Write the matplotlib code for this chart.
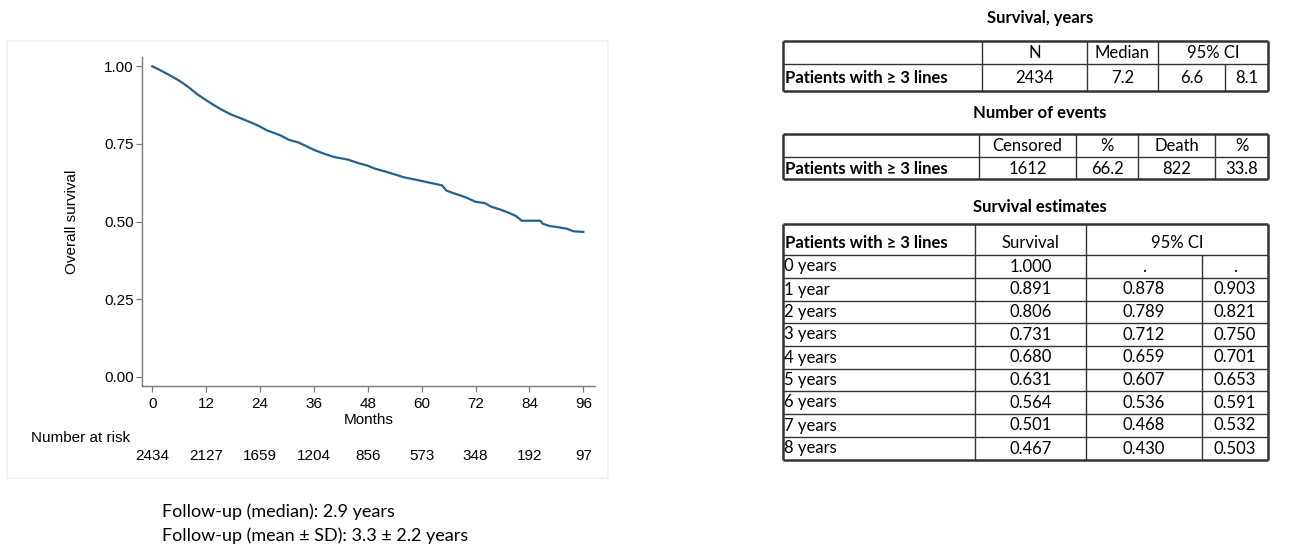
import matplotlib
matplotlib.use("Agg")
import matplotlib.pyplot as plt
from matplotlib.patches import Rectangle
from matplotlib.transforms import blended_transform_factory

# Kaplan-Meier curve
months = [0, 1, 2.5, 4, 5.5, 7, 8.5, 10, 12, 13.5, 15, 17.5, 19.5, 22.5, 24,
          25.5, 28.5, 30.5, 32.5, 34, 36, 38, 40.5, 43.5, 46, 48, 49.5, 52,
          54, 56, 58, 60, 62.5, 64.5, 65.5, 67, 68.5, 70, 72, 74, 75.5, 77.5,
          79.5, 81, 82.3, 86.4, 87, 88.5, 90, 92.4, 93.8, 96]
surv = [1.000, 0.993, 0.982, 0.970, 0.958, 0.944, 0.928, 0.910, 0.891, 0.877,
        0.864, 0.845, 0.834, 0.816, 0.806, 0.794, 0.778, 0.763, 0.755, 0.745,
        0.731, 0.720, 0.708, 0.700, 0.688, 0.680, 0.671, 0.661, 0.652, 0.643,
        0.637, 0.631, 0.623, 0.617, 0.600, 0.592, 0.585, 0.577, 0.564, 0.560,
        0.548, 0.539, 0.528, 0.518, 0.503, 0.503, 0.493, 0.486, 0.483, 0.477,
        0.469, 0.467]

risk_months = [0, 12, 24, 36, 48, 60, 72, 84, 96]
at_risk = [2434, 2127, 1659, 1204, 856, 573, 348, 192, 97]
y_ticks = [0.0, 0.25, 0.5, 0.75, 1.0]

# tables
t1_title = "Survival, years"
t1_head = ["", "N", "Median", "95% CI"]
t1_row = ["Patients with \u2265 3 lines", "2434", "7.2", "6.6", "8.1"]

t2_title = "Number of events"
t2_head = ["", "Censored", "%", "Death", "%"]
t2_row = ["Patients with \u2265 3 lines", "1612", "66.2", "822", "33.8"]

t3_title = "Survival estimates"
t3_head = ["Patients with \u2265 3 lines", "Survival", "95% CI"]
t3_labels = ["0 years", "1 year", "2 years", "3 years", "4 years",
             "5 years", "6 years", "7 years", "8 years"]
t3_surv = ["1.000", "0.891", "0.806", "0.731", "0.680", "0.631", "0.564",
           "0.501", "0.467"]
t3_lo = [".", "0.878", "0.789", "0.712", "0.659", "0.607", "0.536", "0.468",
         "0.430"]
t3_hi = [".", "0.903", "0.821", "0.750", "0.701", "0.653", "0.591", "0.532",
         "0.503"]

footer = ["Follow-up (median): 2.9 years",
          "Follow-up (mean \u00b1 SD): 3.3 \u00b1 2.2 years"]

W, H = 1293, 548
fig = plt.figure(figsize=(W / 100, H / 100), dpi=100)

# overlay in pixel units for panel box and tables
bg = fig.add_axes([0, 0, 1, 1])
bg.set_xlim(0, W)
bg.set_ylim(H, 0)
bg.axis("off")
bg.add_patch(Rectangle((7, 41), 601, 437, fill=False, ec="#eef2f4", lw=1.2))

pfont = ["Liberation Sans", "DejaVu Sans"]
tfont = ["Lato", "DejaVu Sans"]
blue = "#23628f"
grey = "#7a7a7a"
pfs = 11
tfs = 12

# KM plot
ax = fig.add_axes([142 / W, 1 - 386 / H, (595 - 142) / W, (386 - 57) / H])
ax.plot(months, surv, color=blue, lw=1.6)
ax.set_xlim(-2.3, 98.6)
ax.set_ylim(-0.029, 1.03)
ax.set_xticks(risk_months)
ax.set_yticks(y_ticks)
ax.set_yticklabels(["%.2f" % v for v in y_ticks], family=pfont, fontsize=pfs)
ax.set_xticklabels([str(m) for m in risk_months], family=pfont, fontsize=pfs)
for s in ["top", "right"]:
    ax.spines[s].set_visible(False)
for s in ["left", "bottom"]:
    ax.spines[s].set_color(grey)
    ax.spines[s].set_linewidth(1.0)
ax.tick_params(direction="out", length=4, width=0.9, color=grey)
ax.tick_params(axis="x", pad=4)
ax.tick_params(axis="y", pad=2)
ax.set_xlabel("Months", family=pfont, fontsize=pfs, labelpad=1)
ax.set_ylabel("Overall survival", family=pfont, fontsize=pfs, labelpad=18)

tr = blended_transform_factory(ax.transData, fig.transFigure)
fig.text(31 / W, 1 - 438 / H, "Number at risk", family=pfont, fontsize=pfs,
         ha="left", va="center")
for m, n in zip(risk_months, at_risk):
    ax.text(m, 1 - 456 / H, str(n), transform=tr, family=pfont, fontsize=pfs,
            ha="center", va="center")

# footer
for i, line in enumerate(footer):
    bg.text(162, 512 + 24 * i, line, family=tfont, fontsize=13,
            ha="left", va="center")


def hline(x0, x1, y, lw=1.0):
    bg.plot([x0, x1], [y, y], color="#333333", lw=lw, solid_capstyle="butt")


def vline(x, y0, y1, lw=1.0):
    bg.plot([x, x], [y0, y1], color="#333333", lw=lw, solid_capstyle="butt")


def frame(x0, x1, y0, y1):
    hline(x0, x1, y0, 1.8)
    hline(x0, x1, y1, 1.8)
    vline(x0, y0, y1, 1.8)
    vline(x1, y0, y1, 1.8)


def cell(x, y, s, bold=False, left=False):
    bg.text(x, y, s, family=tfont, fontsize=tfs,
            fontweight="bold" if bold else "normal",
            ha="left" if left else "center", va="center")


tx = 1040
# table 1
xs = [783, 982, 1087, 1158, 1225, 1268]
ys = [41, 64, 91]
bg.text(tx, 18, t1_title, family=tfont, fontsize=tfs, fontweight="bold",
        ha="center", va="center")
frame(xs[0], xs[-1], ys[0], ys[-1])
hline(xs[0], xs[-1], ys[1])
for x in xs[1:4]:
    vline(x, ys[0], ys[2])
vline(xs[4], ys[1], ys[2])
cell((xs[1] + xs[2]) / 2, 53, t1_head[1])
cell((xs[2] + xs[3]) / 2, 53, t1_head[2])
cell((xs[3] + xs[5]) / 2, 53, t1_head[3])
cell(xs[0] + 2, 78, t1_row[0], bold=True, left=True)
for j in range(1, 5):
    cell((xs[j] + xs[j + 1]) / 2, 78, t1_row[j])

# table 2
xs = [783, 979, 1076, 1138, 1215, 1268]
ys = [134, 157, 179]
bg.text(tx, 113, t2_title, family=tfont, fontsize=tfs, fontweight="bold",
        ha="center", va="center")
frame(xs[0], xs[-1], ys[0], ys[-1])
hline(xs[0], xs[-1], ys[1])
for x in xs[1:5]:
    vline(x, ys[0], ys[2])
for j in range(1, 5):
    cell((xs[j] + xs[j + 1]) / 2, 146, t2_head[j])
cell(xs[0] + 2, 169, t2_row[0], bold=True, left=True)
for j in range(1, 5):
    cell((xs[j] + xs[j + 1]) / 2, 169, t2_row[j])

# table 3
xs = [783, 975, 1086, 1202, 1268]
ys = [224, 255, 278, 301, 323, 346, 369, 391, 414, 437, 460]
bg.text(tx, 207, t3_title, family=tfont, fontsize=tfs, fontweight="bold",
        ha="center", va="center")
frame(xs[0], xs[-1], ys[0], ys[-1])
for y in ys[1:-1]:
    hline(xs[0], xs[-1], y)
vline(xs[1], ys[0], ys[-1])
vline(xs[2], ys[0], ys[-1])
vline(xs[3], ys[1], ys[-1])
cell(xs[0] + 2, 243, t3_head[0], bold=True, left=True)
cell((xs[1] + xs[2]) / 2, 243, t3_head[1])
cell((xs[2] + xs[4]) / 2, 243, t3_head[2])
for i in range(len(t3_labels)):
    yc = (ys[i + 1] + ys[i + 2]) / 2
    cell(xs[0] + 1, yc, t3_labels[i], left=True)
    cell((xs[1] + xs[2]) / 2, yc, t3_surv[i])
    cell((xs[2] + xs[3]) / 2, yc, t3_lo[i])
    cell((xs[3] + xs[4]) / 2, yc, t3_hi[i])

fig.savefig("out.png", dpi=100)
